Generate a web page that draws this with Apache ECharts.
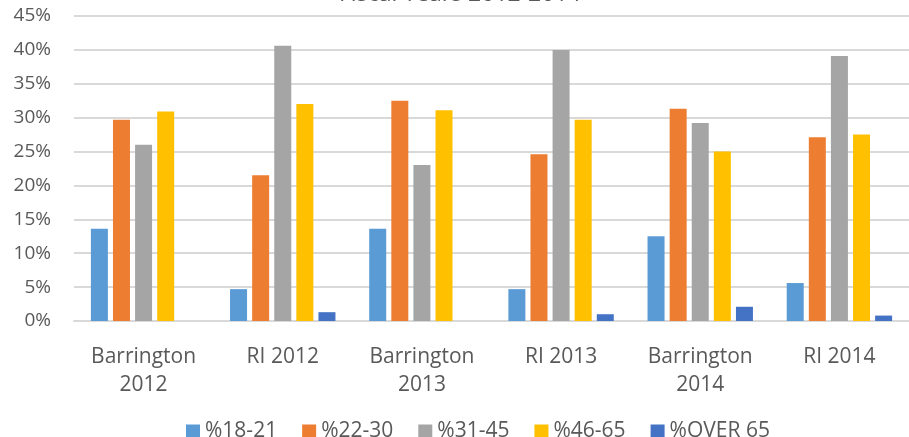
<!DOCTYPE html>
<html><head><meta charset="utf-8">
<script src="https://cdn.jsdelivr.net/npm/echarts@6/dist/echarts.min.js"></script>
<style>html,body{margin:0;padding:0;background:#fff}#c{width:909px;height:437px}</style>
</head><body><div id="c"></div>
<script>
var categories = ['Barrington\n2012','RI 2012','Barrington\n2013','RI 2013','Barrington\n2014','RI 2014'];
var s18_21 = [13.6, 4.7, 13.6, 4.7, 12.5, 5.6];
var s22_30 = [29.7, 21.5, 32.5, 24.6, 31.3, 27.1];
var s31_45 = [26.0, 40.6, 23.0, 40.0, 29.2, 39.1];
var s46_65 = [30.9, 32.0, 31.1, 29.7, 25.0, 27.5];
var sOver65 = [0, 1.3, 0, 1.0, 2.1, 0.8];
var seriesNames = ['%18-21','%22-30','%31-45','%46-65','%OVER 65'];
var yTicks = [0,5,10,15,20,25,30,35,40,45];
var colors = ['#5B9BD5','#ED7D31','#A5A5A5','#FFC000','#4472C4'];
var font = 'Open Sans, Liberation Sans, sans-serif';
var allData = [s18_21, s22_30, s31_45, s46_65, sOver65];
var chart = echarts.init(document.getElementById('c'));
chart.setOption({
  animation:false,
  color: colors,
  title:{text:'Fiscal Years 2012-2014', left:334, top:-22, textStyle:{fontFamily:font,fontSize:23,fontWeight:'normal',color:'#595959'}},
  legend:{top:416, left:181, itemWidth:14, itemHeight:14, itemGap:25, icon:'rect',
    textStyle:{fontFamily:font,fontSize:21,color:'#595959'}, data:seriesNames},
  grid:{left:74, right:-5, top:16, bottom:116},
  xAxis:{type:'category', data:categories,
    axisLine:{lineStyle:{color:'#D9D9D9',width:2}}, axisTick:{show:false},
    axisLabel:{fontFamily:font,fontSize:21,color:'#595959',margin:22,lineHeight:28}},
  yAxis:{type:'value', min:yTicks[0], max:yTicks[yTicks.length-1], interval:5,
    axisLabel:{formatter:'{value}%', fontFamily:font,fontSize:19,color:'#595959',margin:23},
    splitLine:{lineStyle:{color:'#D9D9D9',width:2}}, axisLine:{show:false}, axisTick:{show:false}},
  series: seriesNames.map(function(n,i){return {name:n,type:'bar',data:allData[i],barWidth:17,barGap:'30%'};})
});
</script></body></html>
